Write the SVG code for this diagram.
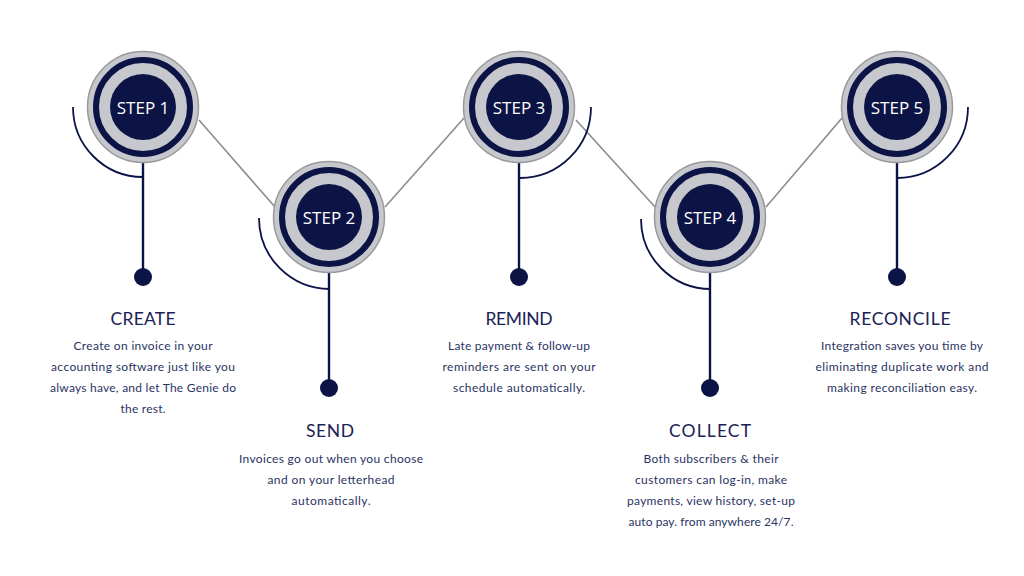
<svg xmlns="http://www.w3.org/2000/svg" width="1024" height="576" viewBox="0 0 1024 576">
<style>
.ring{fill:#c6c8ce;stroke:#9a9a9c;stroke-width:1.5}
.band{fill:none;stroke:#0c1446;stroke-width:6}
.core{fill:#0c1446}
.lbl{font-family:"Open Sans","Liberation Sans",sans-serif;font-size:17px;fill:#ffffff;text-anchor:middle}
.arc{fill:none;stroke:#0c1446;stroke-width:1.8}
.stem{stroke:#0c1446;stroke-width:2.4}
.dot{fill:#0c1446}
.conn{stroke:#8c8c8c;stroke-width:1.6;fill:none}
.title{font-family:"Lato","Liberation Sans",sans-serif;font-size:17.5px;fill:#1b2255;text-anchor:middle}
.desc{font-family:"Lato","Liberation Sans",sans-serif;font-size:12px;fill:#2a3363;text-anchor:middle}
</style>
<rect width="1024" height="576" fill="#ffffff"/>
<g id="connectors">
<line class="conn" x1="199" y1="120" x2="275" y2="207"/>
<line class="conn" x1="385" y1="207" x2="464" y2="118"/>
<line class="conn" x1="576" y1="120" x2="656" y2="208"/>
<line class="conn" x1="766" y1="207" x2="842" y2="118"/>
</g>
<g id="step1">
<path class="arc" d="M73 107 A70 70 0 0 0 143 177"/>
<line class="stem" x1="143" y1="163" x2="143" y2="277"/>
<circle class="dot" cx="143" cy="277" r="9"/>
<circle class="ring" cx="143" cy="107" r="55.5"/>
<circle class="band" cx="143" cy="107" r="47"/>
<circle class="core" cx="143" cy="107" r="33"/>
<text class="lbl" x="143" y="114">STEP 1</text>
<text class="title" x="143" y="325" textLength="65">CREATE</text>
<text class="desc" x="143" y="350" textLength="139">Create on invoice in your</text>
<text class="desc" x="143" y="371" textLength="184">accounting software just like you</text>
<text class="desc" x="143" y="392" textLength="186">always have, and let The Genie do</text>
<text class="desc" x="143" y="413" textLength="45">the rest.</text>
</g>
<g id="step2">
<path class="arc" d="M259 218 A71 71 0 0 0 330 289"/>
<line class="stem" x1="329" y1="273" x2="329" y2="388"/>
<circle class="dot" cx="329" cy="388" r="9"/>
<circle class="ring" cx="329" cy="217" r="55.5"/>
<circle class="band" cx="329" cy="217" r="47"/>
<circle class="core" cx="329" cy="217" r="33"/>
<text class="lbl" x="329" y="224">STEP 2</text>
<text class="title" x="330" y="437" textLength="48">SEND</text>
<text class="desc" x="331" y="463" textLength="184">Invoices go out when you choose</text>
<text class="desc" x="331" y="484" textLength="127">and on your letterhead</text>
<text class="desc" x="331" y="505" textLength="79">automatically.</text>
</g>
<g id="step3">
<path class="arc" d="M591 107 A71 71 0 0 1 520 178"/>
<line class="stem" x1="519" y1="163" x2="519" y2="277"/>
<circle class="dot" cx="519" cy="277" r="9"/>
<circle class="ring" cx="519" cy="107" r="55.5"/>
<circle class="band" cx="519" cy="107" r="47"/>
<circle class="core" cx="519" cy="107" r="33"/>
<text class="lbl" x="519" y="114">STEP 3</text>
<text class="title" x="519" y="325" textLength="67">REMIND</text>
<text class="desc" x="519" y="350" textLength="142">Late payment &amp; follow-up</text>
<text class="desc" x="519" y="371" textLength="153">reminders are sent on your</text>
<text class="desc" x="519" y="392" textLength="132">schedule automatically.</text>
</g>
<g id="step4">
<path class="arc" d="M641 219 A70 70 0 0 0 711 289"/>
<line class="stem" x1="710" y1="273" x2="710" y2="388"/>
<circle class="dot" cx="710" cy="388" r="9"/>
<circle class="ring" cx="710" cy="217" r="55.5"/>
<circle class="band" cx="710" cy="217" r="47"/>
<circle class="core" cx="710" cy="217" r="33"/>
<text class="lbl" x="710" y="224">STEP 4</text>
<text class="title" x="710" y="437" textLength="82">COLLECT</text>
<text class="desc" x="711" y="463" textLength="135">Both subscribers &amp; their</text>
<text class="desc" x="711" y="484" textLength="152">customers can log-in, make</text>
<text class="desc" x="711" y="505" textLength="168">payments, view history, set-up</text>
<text class="desc" x="711" y="526" textLength="165">auto pay. from anywhere 24/7.</text>
</g>
<g id="step5">
<path class="arc" d="M968 107 A71 71 0 0 1 897 178"/>
<line class="stem" x1="897" y1="163" x2="897" y2="277"/>
<circle class="dot" cx="897" cy="277" r="9"/>
<circle class="ring" cx="897" cy="107" r="55.5"/>
<circle class="band" cx="897" cy="107" r="47"/>
<circle class="core" cx="897" cy="107" r="33"/>
<text class="lbl" x="897" y="114">STEP 5</text>
<text class="title" x="900" y="325" textLength="101">RECONCILE</text>
<text class="desc" x="902" y="350" textLength="162">Integration saves you time by</text>
<text class="desc" x="902" y="371" textLength="173">eliminating duplicate work and</text>
<text class="desc" x="902" y="392" textLength="150">making reconciliation easy.</text>
</g>
</svg>
